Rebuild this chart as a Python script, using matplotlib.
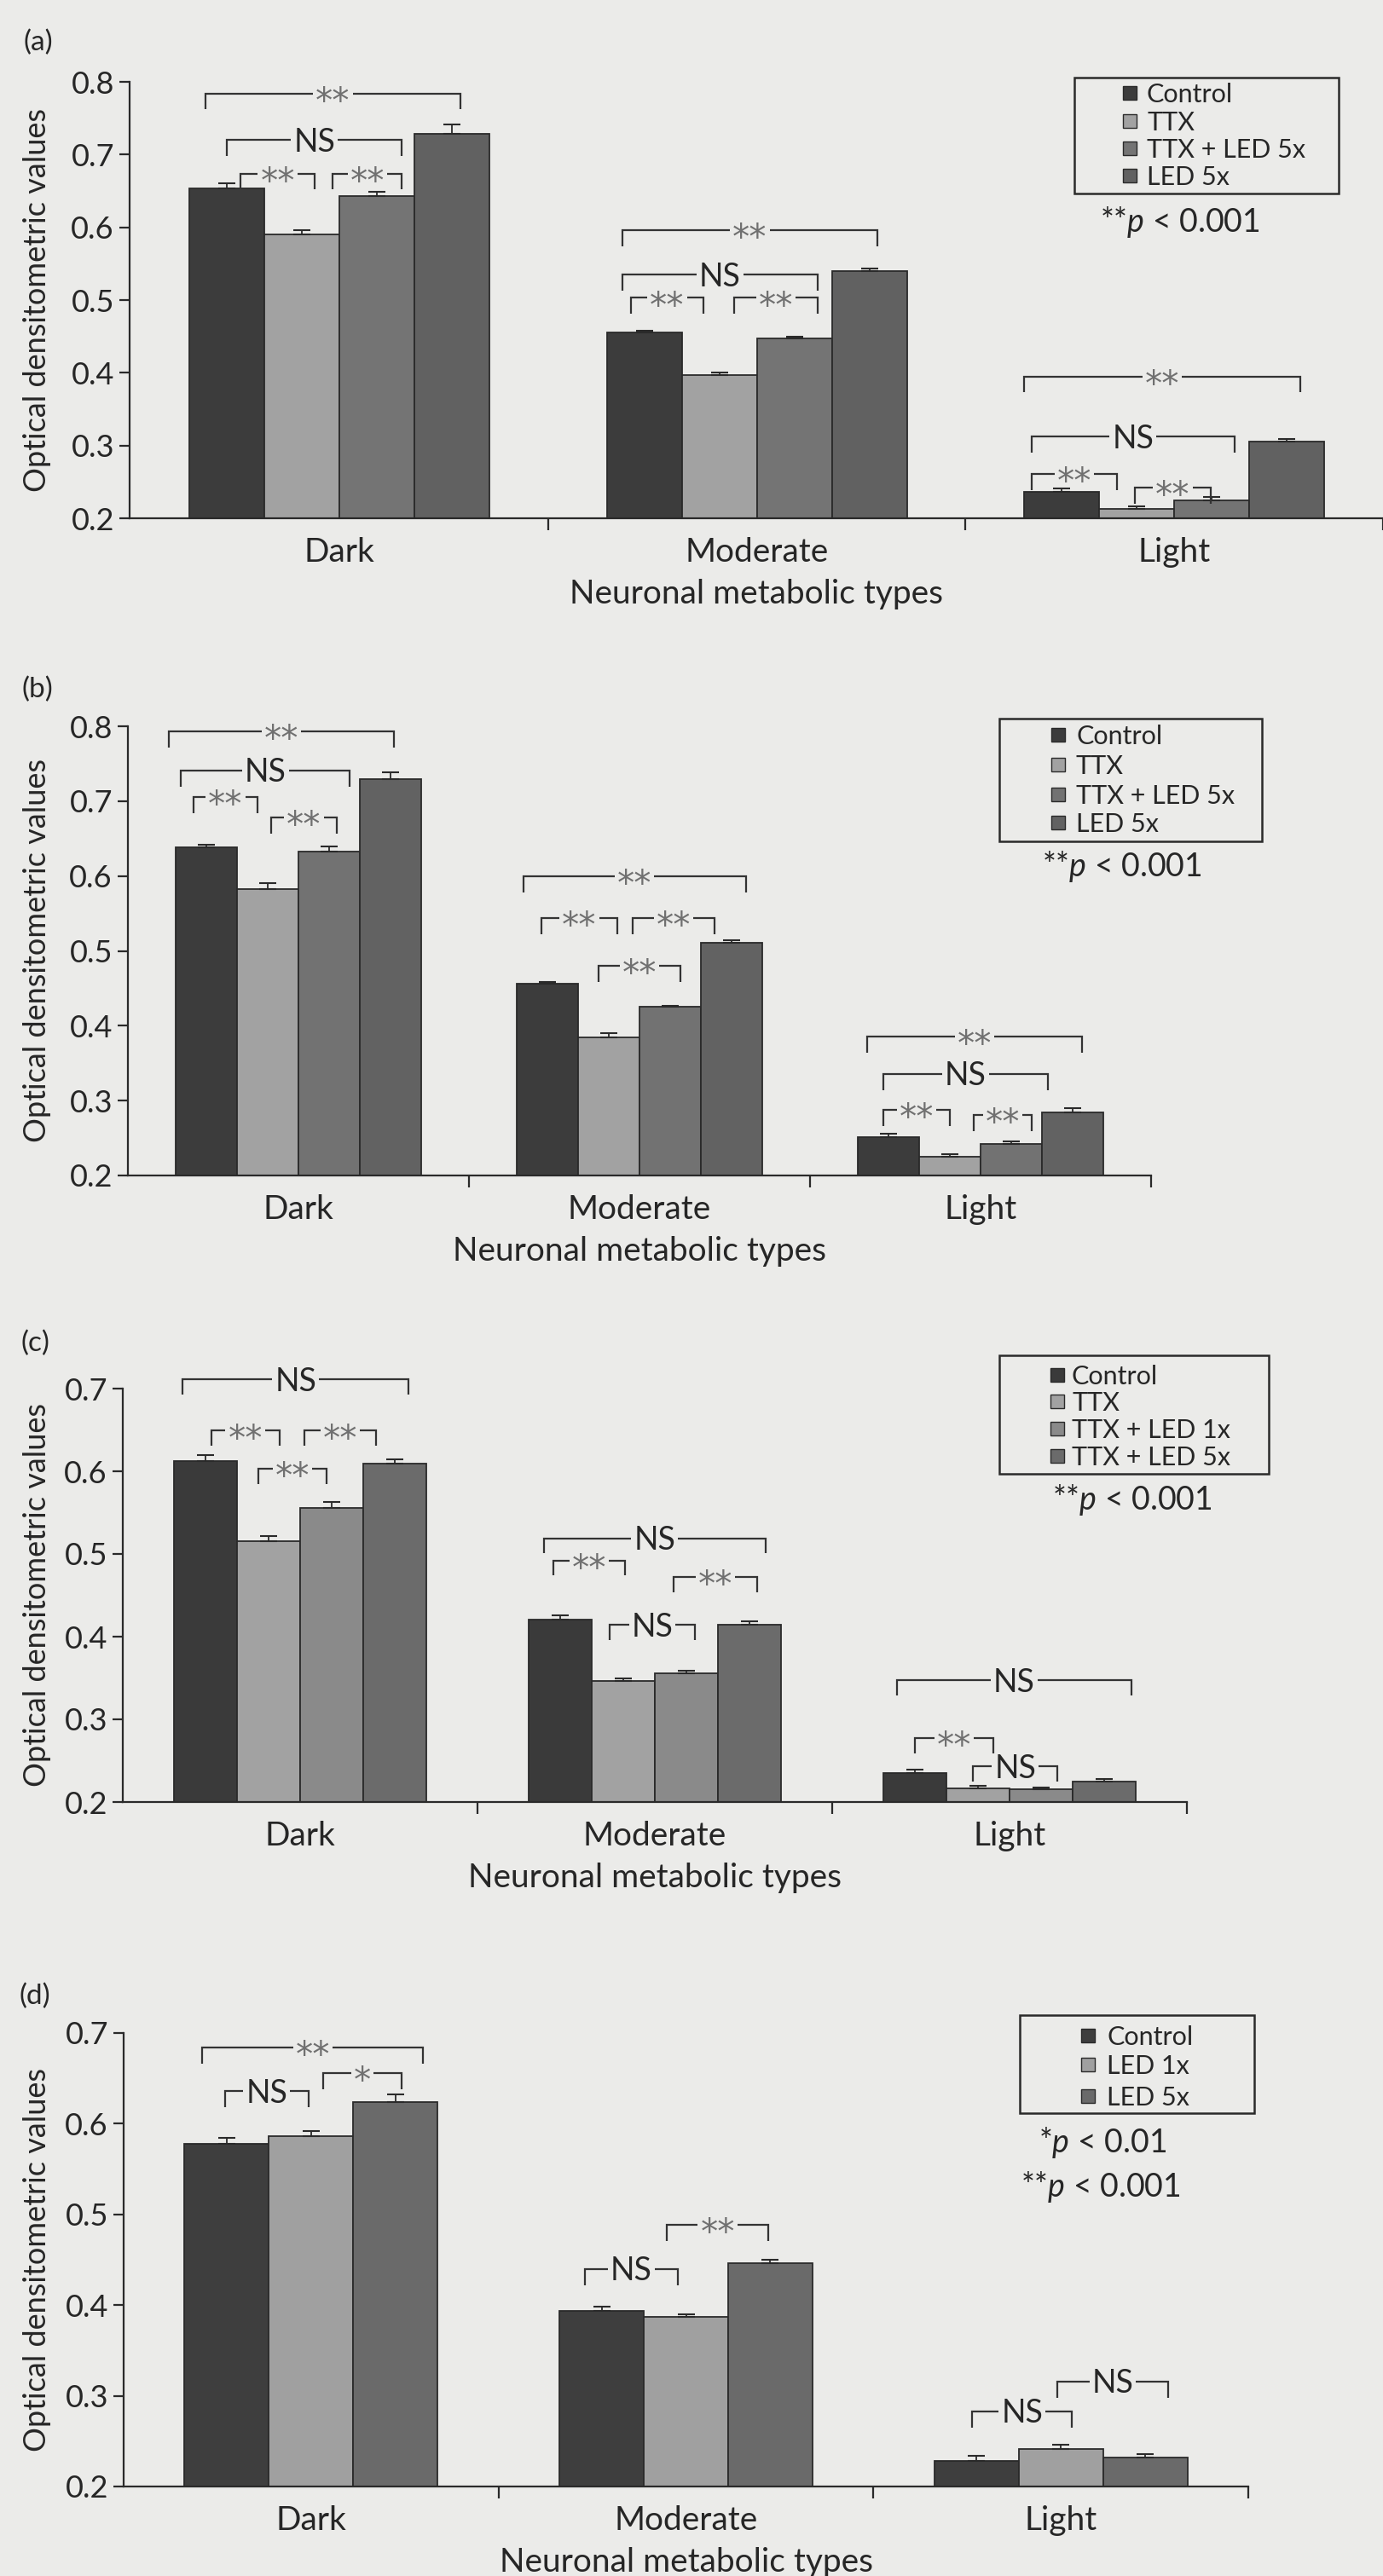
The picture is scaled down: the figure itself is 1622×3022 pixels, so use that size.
import matplotlib
matplotlib.use('Agg')
import matplotlib.pyplot as plt
from matplotlib.patches import Rectangle
import numpy as np

plt.rcParams['font.family'] = ['Lato', 'DejaVu Sans']
plt.rcParams['mathtext.fontset'] = 'custom'
plt.rcParams['mathtext.rm'] = 'Lato'
plt.rcParams['mathtext.it'] = 'Lato:italic'

W, H, DPI = 1622, 3022, 100
BG = '#ebebe9'
EDGE = '#2a2a2a'
LINE = '#333333'
TXT = '#262626'
STAR = '#707070'

# ---------------- data ----------------
categories = ['Dark', 'Moderate', 'Light']

# panel (a)
a_labels = ['Control', 'TTX', 'TTX + LED 5x', 'LED 5x']
a_control = [0.654, 0.455, 0.236]
a_ttx = [0.590, 0.397, 0.213]
a_ttx_led5 = [0.643, 0.447, 0.225]
a_led5 = [0.729, 0.540, 0.305]
a_control_err = [0.006, 0.003, 0.005]
a_ttx_err = [0.006, 0.003, 0.003]
a_ttx_led5_err = [0.006, 0.003, 0.004]
a_led5_err = [0.012, 0.003, 0.004]
# (category, left bar pos, right bar pos, height, label)
a_brackets = [
    (0, -0.29, 3.11, 0.784, '**'), (0, 0.00, 2.33, 0.720, 'NS'),
    (0, 0.18, 1.17, 0.674, '**'), (0, 1.41, 2.33, 0.674, '**'),
    (1, -0.29, 3.10, 0.596, '**'), (1, -0.29, 2.31, 0.535, 'NS'),
    (1, -0.18, 0.79, 0.503, '**'), (1, 1.20, 2.31, 0.503, '**'),
    (2, -0.50, 3.18, 0.395, '**'), (2, -0.40, 2.30, 0.312, 'NS'),
    (2, -0.40, 0.74, 0.261, '**'), (2, 0.97, 1.99, 0.242, '**'),
]
a_pnotes = [r'**$p$ < 0.001']

# panel (b)
b_labels = ['Control', 'TTX', 'TTX + LED 5x', 'LED 5x']
b_control = [0.638, 0.456, 0.251]
b_ttx = [0.583, 0.385, 0.225]
b_ttx_led5 = [0.633, 0.425, 0.242]
b_led5 = [0.729, 0.511, 0.284]
b_control_err = [0.004, 0.002, 0.005]
b_ttx_err = [0.008, 0.005, 0.003]
b_ttx_led5_err = [0.007, 0.002, 0.003]
b_led5_err = [0.010, 0.003, 0.006]
b_brackets = [
    (0, -0.61, 3.06, 0.793, '**'), (0, -0.42, 2.34, 0.741, 'NS'),
    (0, -0.21, 0.83, 0.706, '**'), (0, 1.05, 2.13, 0.678, '**'),
    (1, -0.39, 3.23, 0.600, '**'), (1, -0.10, 1.14, 0.544, '**'),
    (1, 1.39, 2.72, 0.544, '**'), (1, 0.83, 2.17, 0.480, '**'),
    (2, -0.35, 3.15, 0.386, '**'), (2, -0.09, 2.60, 0.336, 'NS'),
    (2, -0.09, 1.00, 0.288, '**'), (2, 1.39, 2.33, 0.281, '**'),
]
b_pnotes = [r'**$p$ < 0.001']

# panel (c)
c_labels = ['Control', 'TTX', 'TTX + LED 1x', 'TTX + LED 5x']
c_control = [0.612, 0.421, 0.235]
c_ttx = [0.515, 0.346, 0.217]
c_ttx_led1 = [0.556, 0.356, 0.215]
c_ttx_led5 = [0.609, 0.414, 0.225]
c_control_err = [0.008, 0.005, 0.004]
c_ttx_err = [0.007, 0.004, 0.003]
c_ttx_led1_err = [0.007, 0.003, 0.003]
c_ttx_led5_err = [0.005, 0.005, 0.003]
c_brackets = [
    (0, -0.36, 3.22, 0.711, 'NS'), (0, 0.09, 1.17, 0.649, '**'),
    (0, 1.57, 2.70, 0.649, '**'), (0, 0.84, 1.92, 0.603, '**'),
    (1, -0.26, 3.25, 0.519, 'NS'), (1, -0.11, 1.03, 0.492, '**'),
    (1, 1.80, 3.12, 0.472, '**'), (1, 0.78, 2.14, 0.414, 'NS'),
    (2, -0.28, 3.43, 0.347, 'NS'), (2, 0.00, 1.25, 0.277, '**'),
    (2, 0.92, 2.26, 0.243, 'NS'),
]
c_pnotes = [r'**$p$ < 0.001']

# panel (d)
d_labels = ['Control', 'LED 1x', 'LED 5x']
d_control = [0.578, 0.394, 0.228]
d_led1 = [0.586, 0.387, 0.241]
d_led5 = [0.624, 0.446, 0.232]
d_control_err = [0.006, 0.004, 0.006]
d_led1_err = [0.006, 0.003, 0.005]
d_led5_err = [0.008, 0.004, 0.004]
d_brackets = [
    (0, -0.29, 2.33, 0.684, '**'), (0, -0.02, 0.97, 0.636, 'NS'),
    (0, 1.14, 2.07, 0.656, '*'),
    (1, -0.20, 0.90, 0.440, 'NS'), (1, 0.77, 1.98, 0.489, '**'),
    (2, -0.05, 1.13, 0.283, 'NS'), (2, 0.96, 2.27, 0.316, 'NS'),
]
d_pnotes = [r'*$p$ < 0.01', r'**$p$ < 0.001']

# ---------------- layout / style ----------------
panels = [
    dict(letter='(a)', letter_xy=(45, 50),
         series=[a_control, a_ttx, a_ttx_led5, a_led5],
         errs=[a_control_err, a_ttx_err, a_ttx_led5_err, a_led5_err],
         labels=a_labels, brackets=a_brackets, pnotes=a_pnotes,
         colors=['#3c3c3c', '#a2a2a2', '#747474', '#616161'],
         ymax=0.8, ax_px=(152, 1622, 96, 608), xlim=(-0.503, 2.479), barw=0.18,
         box=(1260, 1570, 91, 227), sq_x=1317, txt_x=1345, rows=[109, 142, 174, 206],
         pnote_xy=[(1290, 259)], drop=0.022),
    dict(letter='(b)', letter_xy=(44, 809),
         series=[b_control, b_ttx, b_ttx_led5, b_led5],
         errs=[b_control_err, b_ttx_err, b_ttx_led5_err, b_led5_err],
         labels=b_labels, brackets=b_brackets, pnotes=b_pnotes,
         colors=['#3c3c3c', '#a2a2a2', '#727272', '#626262'],
         ymax=0.8, ax_px=(150, 1350, 852, 1379), xlim=(-0.5, 2.5), barw=0.18,
         box=(1172, 1480, 843, 987), sq_x=1233, txt_x=1262, rows=[862, 897, 932, 965],
         pnote_xy=[(1222, 1015)], drop=0.022),
    dict(letter='(c)', letter_xy=(41, 1576),
         series=[c_control, c_ttx, c_ttx_led1, c_ttx_led5],
         errs=[c_control_err, c_ttx_err, c_ttx_led1_err, c_ttx_led5_err],
         labels=c_labels, brackets=c_brackets, pnotes=c_pnotes,
         colors=['#3a3a3a', '#a2a2a2', '#8a8a8a', '#6b6b6b'],
         ymax=0.7, ax_px=(144, 1392, 1629, 2114), xlim=(-0.5, 2.5), barw=0.178,
         box=(1172, 1488, 1590, 1729), sq_x=1232, txt_x=1257, rows=[1613, 1644, 1676, 1708],
         pnote_xy=[(1234, 1758)], drop=0.018),
    dict(letter='(d)', letter_xy=(41, 2342),
         series=[d_control, d_led1, d_led5],
         errs=[d_control_err, d_led1_err, d_led5_err],
         labels=d_labels, brackets=d_brackets, pnotes=d_pnotes,
         colors=['#3e3e3e', '#a0a0a0', '#6a6a6a'],
         ymax=0.7, ax_px=(145, 1464, 2385, 2917), xlim=(-0.5, 2.5), barw=0.225,
         box=(1196, 1471, 2364, 2479), sq_x=1268, txt_x=1298, rows=[2388, 2422, 2459],
         pnote_xy=[(1218, 2512), (1197, 2564)], drop=0.018),
]

PT = DPI / 72.0
fig = plt.figure(figsize=(W / DPI, H / DPI), dpi=DPI, facecolor=BG)


def fx(px):
    return px / W


def fy(py):
    return 1 - py / H


pending = []
for P in panels:
    L, R, T, B = P['ax_px']
    ax = fig.add_axes([fx(L), fy(B), (R - L) / W, (B - T) / H])
    ax.set_facecolor('none')
    n = len(P['series'])
    w = P['barw']
    x = np.arange(len(categories))
    for k in range(n):
        xs = x + (k - (n - 1) / 2) * w
        vals = P['series'][k]
        ax.bar(xs, vals, width=w, color=P['colors'][k], edgecolor=EDGE,
               linewidth=1.3, zorder=2)
        ax.errorbar(xs, vals, yerr=[np.zeros(len(vals)), P['errs'][k]], fmt='none',
                    ecolor=EDGE, elinewidth=1.3, capsize=7, capthick=1.5, zorder=3)
    ax.set_xlim(*P['xlim'])
    ax.set_ylim(0.2, P['ymax'])
    for s in ['top', 'right']:
        ax.spines[s].set_visible(False)
    for s in ['left', 'bottom']:
        ax.spines[s].set_linewidth(1.6)
        ax.spines[s].set_color(EDGE)
    yt = np.round(np.arange(0.2, P['ymax'] + 0.001, 0.1), 1)
    ax.set_yticks(yt)
    ax.set_yticklabels(['%.1f' % v for v in yt])
    ax.tick_params(axis='y', length=9, width=1.6, colors=EDGE, labelsize=26,
                   labelcolor=TXT, pad=4)
    ax.set_xticks([0.5, 1.5, 2.5])
    ax.set_xticklabels([])
    ax.set_xticks(x, minor=True)
    ax.set_xticklabels(categories, minor=True)
    ax.tick_params(axis='x', which='major', length=10, width=1.6, colors=EDGE)
    ax.tick_params(axis='x', which='minor', length=0, labelsize=28,
                   labelcolor=TXT, pad=16)

    # significance brackets
    for (cat, i1, i2, yv, lab) in P['brackets']:
        x1 = cat + (i1 - (n - 1) / 2) * w
        x2 = cat + (i2 - (n - 1) / 2) * w
        if '*' in lab:
            fs, f, col, fam = 29, 0.55, STAR, ['DejaVu Sans']
        else:
            fs, f, col, fam = 27, 0.36, TXT, ['Lato', 'DejaVu Sans']
        t = ax.annotate(lab, xy=((x1 + x2) / 2, yv), xytext=(0, -f * fs),
                        textcoords='offset points', ha='center', va='baseline',
                        fontsize=fs, color=col, family=fam,
                        annotation_clip=False, zorder=5)
        pending.append((ax, t, x1, x2, yv, P['drop']))

    # panel letter
    lx, ly = P['letter_xy']
    fig.text(fx(lx), fy(ly), P['letter'], ha='center', va='center', fontsize=24,
             color=TXT)
    # y label
    fig.text(fx(44), fy((T + B) / 2), 'Optical densitometric values', rotation=90,
             ha='center', va='center', fontsize=26, color=TXT)
    # x label
    fig.text(fx((L + R) / 2), fy(B + 86 + 0.358 * 28 * PT), 'Neuronal metabolic types',
             ha='center', va='baseline', fontsize=28, color=TXT)

    # legend
    bx0, bx1, by0, by1 = P['box']
    fig.add_artist(Rectangle((fx(bx0), fy(by1)), (bx1 - bx0) / W, (by1 - by0) / H,
                             transform=fig.transFigure, facecolor='none',
                             edgecolor=EDGE, linewidth=1.8))
    sq = 16
    for k, (lab, ry) in enumerate(zip(P['labels'], P['rows'])):
        fig.add_artist(Rectangle((fx(P['sq_x']), fy(ry + sq / 2)), sq / W, sq / H,
                                 transform=fig.transFigure, facecolor=P['colors'][k],
                                 edgecolor=EDGE, linewidth=1.0))
        fig.text(fx(P['txt_x']), fy(ry + 0.358 * 22 * PT), lab, ha='left',
                 va='baseline', fontsize=22, color=TXT)
    for note, (px_, py_) in zip(P['pnotes'], P['pnote_xy']):
        fig.text(fx(px_), fy(py_ + 0.358 * 27 * PT), note, ha='left', va='baseline',
                 fontsize=27, color=TXT)

fig.canvas.draw()
r = fig.canvas.get_renderer()
for ax, t, x1, x2, yv, drop in pending:
    bb = t.get_window_extent(r)
    inv = ax.transData.inverted()
    gx0 = inv.transform((bb.x0 - 3, 0))[0]
    gx1 = inv.transform((bb.x1 + 3, 0))[0]
    kw = dict(color=LINE, lw=1.6, clip_on=False, zorder=4, solid_capstyle='butt',
              solid_joinstyle='miter')
    ax.plot([x1, x1, gx0], [yv - drop, yv, yv], **kw)
    ax.plot([gx1, x2, x2], [yv, yv, yv - drop], **kw)

fig.savefig('out.png', dpi=DPI, facecolor=BG)
